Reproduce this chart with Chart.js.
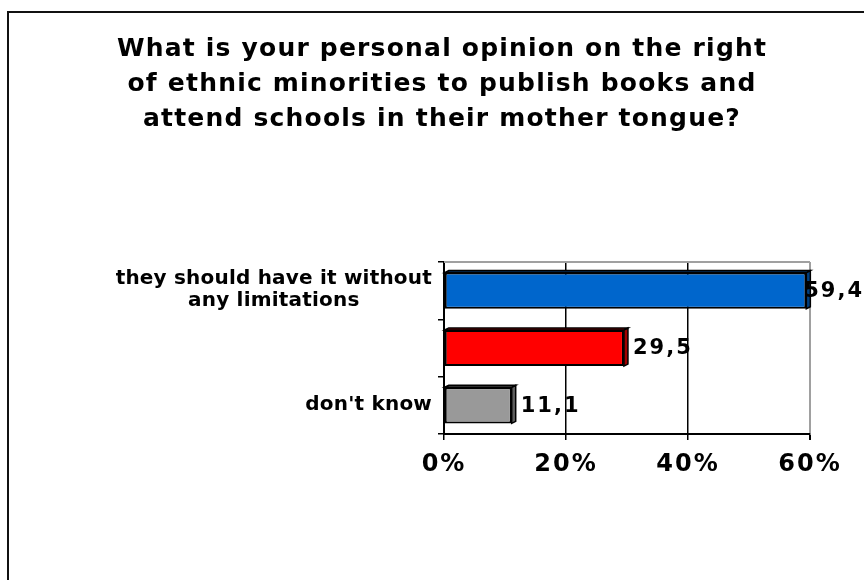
<!DOCTYPE html>
<html>
<head>
<meta charset="utf-8">
<script src="https://cdn.jsdelivr.net/npm/chart.js@4"></script>
<style>
  html, body { margin: 0; padding: 0; background: #fff; }
  #wrap { position: relative; width: 864px; height: 580px; overflow: hidden; }
  /* outer chart frame, its right and bottom edges run off the page */
  #frame { position: absolute; left: 7px; top: 11px; width: 900px; height: 600px;
           border-left: 2px solid #111; border-top: 2px solid #111; }
  #myChart { position: absolute; left: 0; top: 0; }
</style>
</head>
<body>
<div id="wrap">
  <div id="frame"></div>
  <canvas id="myChart" width="864" height="580"></canvas>
</div>
<script>
// Data
const categories = [["they should have it without", "any limitations"], "", "don't know"];
const values = [59.4, 29.5, 11.1];
const barColors = ["#0066CC", "#FF0000", "#999999"];
const sideColors = ["#003F80", "#A00000", "#5E5E5E"];
const xTicks = [0, 20, 40, 60];

const FONT = "DejaVu Sans";

// letter spacing: title first, x tick labels (drawn on layer z=1) after the bars
const spacing = {
  id: "spacing",
  beforeDraw(chart) {
    chart.ctx.letterSpacing = "1.2px";
  },
  afterDatasetsDraw(chart) {
    chart.ctx.letterSpacing = "2px";
  },
  afterDraw(chart) {
    chart.ctx.letterSpacing = "0px";
  },
};

// right-aligned category labels, extra lines centred under the first one
const categoryLabels = {
  id: "categoryLabels",
  afterDraw(chart) {
    const ctx = chart.ctx;
    const y = chart.scales.y;
    ctx.save();
    ctx.font = `bold 20px "${FONT}"`;
    ctx.letterSpacing = "0.2px";
    ctx.fillStyle = "#000";
    ctx.textAlign = "center";
    ctx.textBaseline = "middle";
    const right = chart.chartArea.left - 12;
    categories.forEach((label, i) => {
      const lines = Array.isArray(label) ? label : [label];
      const w = Math.max(...lines.map((l) => ctx.measureText(l).width));
      const cy = y.getPixelForTick(i);
      lines.forEach((line, j) => {
        ctx.fillText(line, right - w / 2, cy + (j - (lines.length - 1) / 2) * 22 - 1);
      });
    });
    ctx.restore();
  },
};

// shallow 3d side + top faces on each bar, and the value labels
const barExtras = {
  id: "barExtras",
  beforeDatasetsDraw(chart) {
    const { ctx, chartArea } = chart;
    ctx.save();
    ctx.strokeStyle = "#A0A0A0";
    ctx.lineWidth = 2;
    ctx.beginPath();
    ctx.moveTo(chartArea.left, chartArea.top);
    ctx.lineTo(chartArea.right, chartArea.top);
    ctx.stroke();
    ctx.restore();
  },
  afterDatasetsDraw(chart) {
    const ctx = chart.ctx;
    const meta = chart.getDatasetMeta(0);
    const dx = 4, dy = -2;
    ctx.save();
    meta.data.forEach((bar, i) => {
      const h = bar.height;
      const top = bar.y - h / 2, bottom = bar.y + h / 2;
      ctx.lineWidth = 1.5;
      ctx.strokeStyle = "#000";
      ctx.fillStyle = sideColors[i];
      // side face
      ctx.beginPath();
      ctx.moveTo(bar.x, top);
      ctx.lineTo(bar.x + dx, top + dy);
      ctx.lineTo(bar.x + dx, bottom + dy);
      ctx.lineTo(bar.x, bottom);
      ctx.closePath();
      ctx.fill();
      ctx.stroke();
      // top face
      ctx.beginPath();
      ctx.moveTo(bar.base, top);
      ctx.lineTo(bar.base + dx, top + dy);
      ctx.lineTo(bar.x + dx, top + dy);
      ctx.lineTo(bar.x, top);
      ctx.closePath();
      ctx.fill();
      ctx.stroke();
    });

    ctx.font = `bold 21px "${FONT}"`;
    ctx.letterSpacing = "2px";
    ctx.fillStyle = "#000";
    ctx.textAlign = "left";
    ctx.textBaseline = "middle";
    meta.data.forEach((bar, i) => {
      const text = values[i].toFixed(1).replace(".", ",");
      const w = ctx.measureText(text).width;
      const x = Math.min(bar.x + 9, chart.width - w);
      ctx.fillText(text, x, bar.y + 1);
    });
    ctx.restore();
  },
};

const ctx = document.getElementById("myChart").getContext("2d");
const myChart = new Chart(ctx, {
  type: "bar",
  data: {
    labels: categories,
    datasets: [
      {
        data: values,
        backgroundColor: barColors,
        borderColor: "#000",
        borderWidth: 2,
        borderSkipped: false,
        barPercentage: 0.63,
        categoryPercentage: 1,
      },
    ],
  },
  options: {
    indexAxis: "y",
    responsive: false,
    animation: false,
    layout: { padding: { left: 74, right: 54, top: 32, bottom: 0 } },
    plugins: {
      legend: { display: false },
      tooltip: { enabled: false },
      title: {
        display: true,
        text: [
          "What is your personal opinion on the right",
          "of ethnic minorities to publish books and",
          "attend schools in their mother tongue?",
        ],
        color: "#000",
        font: { family: FONT, size: 25, weight: "bold", lineHeight: 35 / 25 },
        padding: { top: 0, bottom: 125 },
      },
    },
    scales: {
      x: {
        min: 0,
        max: 60,
        afterFit: (s) => { s.height = 146; },
        afterBuildTicks: (s) => { s.ticks = xTicks.map((v) => ({ value: v })); },
        grid: {
          color: (c) => (c.tick && c.tick.value === 60 ? "#A0A0A0" : "#000"),
          lineWidth: (c) => (c.tick && c.tick.value === 60 ? 2 : 1.5),
          tickColor: "#000",
          tickLength: 6,
        },
        border: { color: "#000", width: 2 },
        ticks: {
          z: 1,
          color: "#000",
          padding: 10,
          maxRotation: 0,
          font: { family: FONT, size: 24, weight: "bold" },
          callback: (v) => v + "%",
        },
      },
      y: {
        afterFit: (s) => { s.width = 370; },
        grid: {
          drawOnChartArea: false,
          color: "#000",
          tickLength: 6,
          lineWidth: 1.5,
        },
        border: { color: "#000", width: 2 },
        ticks: { display: false },
      },
    },
  },
  plugins: [spacing, categoryLabels, barExtras],
});
</script>
</body>
</html>
